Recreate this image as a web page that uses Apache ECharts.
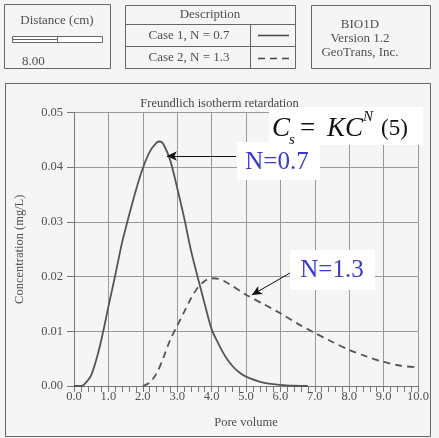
<!DOCTYPE html>
<html><head><meta charset="utf-8">
<script src="https://cdn.jsdelivr.net/npm/echarts@6/dist/echarts.min.js"></script>
<style>html,body{margin:0;padding:0;background:#f5f5f5}#c{width:439px;height:438px}</style>
</head><body><div id="c"></div>
<script>
// Case 1, N = 0.7 (solid)
const poreVolume1 = [0.0, 0.2, 0.3, 0.5, 0.7, 0.85, 1.0, 1.2, 1.4, 1.6, 1.8, 2.0, 2.2, 2.4, 2.5, 2.6, 2.8, 3.0, 3.2, 3.4, 3.6, 3.8, 4.0, 4.2, 4.4, 4.6, 4.8, 5.0, 5.5, 6.0, 6.4, 6.8];
const conc1 = [0, 0, 0.0003, 0.0020, 0.0060, 0.0100, 0.0145, 0.0203, 0.0263, 0.0312, 0.0358, 0.0398, 0.0428, 0.0445, 0.0447, 0.0442, 0.0412, 0.0362, 0.0308, 0.0248, 0.0198, 0.0150, 0.0104, 0.0077, 0.0054, 0.0037, 0.0025, 0.0017, 0.0006, 0.0002, 0.00005, 0];
// Case 2, N = 1.3 (dashed)
const poreVolume2 = [2.0, 2.2, 2.4, 2.6, 2.8, 3.0, 3.2, 3.4, 3.6, 3.8, 4.0, 4.2, 4.5, 5.0, 5.5, 6.0, 6.5, 7.0, 7.5, 8.0, 8.5, 9.0, 9.5, 10.0];
const conc2 = [0, 0.0006, 0.0023, 0.0052, 0.0085, 0.0110, 0.0135, 0.0160, 0.0180, 0.0192, 0.0197, 0.0196, 0.0187, 0.0167, 0.0150, 0.0133, 0.0114, 0.0097, 0.0081, 0.0066, 0.0054, 0.0044, 0.0037, 0.0034];
const xTickLabels = ['0.0','1.0','2.0','3.0','4.0','5.0','6.0','7.0','8.0','9.0','10.0'];
const yTickLabels = ['0.00','0.01','0.02','0.03','0.04','0.05'];
// arrow annotations (data coordinates): [from, to]
const arrow07 = [[4.71, 0.04205], [2.70, 0.04205]];
const arrow13 = [[6.28, 0.02066], [5.17, 0.01664]];

const FONT = 'Liberation Serif';
const TXT = '#505050';
const chart = echarts.init(document.getElementById('c'), null, {renderer: 'canvas'});

function zip(xs, ys) { return xs.map((x, i) => [x, ys[i]]); }

const g = [];
function rect(x, y, w, h, fill) { g.push({type: 'rect', shape: {x, y, width: w, height: h}, style: {fill: fill || 'none', stroke: '#666', lineWidth: 1}, z: 10}); }
function line(x1, y1, x2, y2, dash, w, color) { g.push({type: 'line', shape: {x1, y1, x2, y2}, style: {stroke: color || '#666', lineWidth: w || 1, lineDash: dash || null}, z: 11}); }
function text(x, y, t, opts) {
  g.push({type: 'text', x, y, z: 12, style: Object.assign({text: t, font: '13px "' + FONT + '"', fill: TXT, align: 'center', verticalAlign: 'middle'}, opts || {})});
}
// chart frame
rect(5.5, 83.5, 425, 353);
// Distance box
rect(4.5, 4.5, 106, 64);
text(57, 21, 'Distance (cm)');
rect(12.5, 36.5, 90, 6, '#fff');
line(12.5, 39.5, 57.5, 39.5);
line(57.5, 36.5, 57.5, 42.5);
text(22, 62, '8.00', {align: 'left'});
// Description box
rect(125.5, 5.5, 170, 63);
line(125.5, 24.5, 295.5, 24.5);
line(125.5, 46.5, 295.5, 46.5);
line(250.5, 24.5, 250.5, 68.5);
text(210, 15, 'Description');
text(189, 36, 'Case 1, N = 0.7');
text(189, 58, 'Case 2, N = 1.3');
line(258, 35.5, 289, 35.5, null, 1.5, '#444');
line(258, 58.5, 289, 58.5, [7, 5], 1.5, '#444');
// BIO1D box
rect(311.5, 5.5, 119, 63);
text(360, 25, 'BIO1D');
text(360, 39, 'Version 1.2');
text(360, 53, 'GeoTrans, Inc.');
// equation box
g.push({type: 'rect', shape: {x: 269, y: 107, width: 154, height: 38}, style: {fill: '#fff'}, z: 9});
const EQ = {fill: '#111', align: 'left', verticalAlign: 'middle'};
text(272, 129, 'C', Object.assign({font: 'italic 27px "' + FONT + '"'}, EQ));
text(289, 140, 's', Object.assign({font: 'italic 15px "' + FONT + '"'}, EQ));
text(300, 129, '=', Object.assign({font: '27px "' + FONT + '"'}, EQ));
text(327, 129, 'KC', Object.assign({font: 'italic 27px "' + FONT + '"'}, EQ));
text(363, 117, 'N', Object.assign({font: 'italic 15px "' + FONT + '"'}, EQ));
text(381, 129, '(5)', Object.assign({font: '23px "' + FONT + '"'}, EQ));
// N labels
g.push({type: 'rect', shape: {x: 237, y: 142, width: 83, height: 38}, style: {fill: '#fff'}, z: 9});
text(277, 162, 'N=0.7', {font: '25px "' + FONT + '"', fill: '#3a3ad0'});
g.push({type: 'rect', shape: {x: 290, y: 250, width: 85, height: 40}, style: {fill: '#fff'}, z: 9});
text(332, 270, 'N=1.3', {font: '25px "' + FONT + '"', fill: '#3a3ad0'});

const option = {
  backgroundColor: '#f5f5f5',
  animation: false,
  title: {text: 'Freundlich isotherm retardation', left: 'center', top: 92, textStyle: {fontFamily: FONT, fontSize: 12.5, fontWeight: 'normal', color: '#444'}},
  grid: {left: 74, right: 21, top: 112.5, bottom: 52, containLabel: false},
  xAxis: {
    type: 'value', min: 0, max: 10, interval: 1,
    name: 'Pore volume', nameLocation: 'middle', nameGap: 30,
    nameTextStyle: {fontFamily: FONT, fontSize: 12.5, color: TXT},
    axisLine: {show: true, onZero: false, lineStyle: {color: '#777'}},
    axisTick: {show: true, length: 6, inside: false, lineStyle: {color: '#777'}},
    minorTick: {show: true, splitNumber: 5, length: 6, lineStyle: {color: '#777'}},
    axisLabel: {fontFamily: FONT, fontSize: 12.5, color: TXT, margin: 4, formatter: (v) => xTickLabels[Math.round(v)]},
    splitLine: {show: true, lineStyle: {color: '#999', width: 1}}
  },
  yAxis: {
    type: 'value', min: 0, max: 0.05, interval: 0.01,
    name: 'Concentration (mg/L)', nameLocation: 'middle', nameGap: 48, nameRotate: 90,
    nameTextStyle: {fontFamily: FONT, fontSize: 12.5, color: TXT},
    axisLine: {show: true, lineStyle: {color: '#777'}},
    axisTick: {show: true, length: 7, lineStyle: {color: '#777'}},
    axisLabel: {fontFamily: FONT, fontSize: 12.5, color: TXT, margin: 11, formatter: (v) => yTickLabels[Math.round(v * 100)]},
    splitLine: {show: true, lineStyle: {color: '#999', width: 1}}
  },
  series: [
    {
      name: 'Case 1, N = 0.7', type: 'line', smooth: 0.3, showSymbol: false,
      data: zip(poreVolume1, conc1),
      lineStyle: {color: '#555', width: 1.8},
      markLine: {silent: true, symbol: ['none', 'arrow'], symbolSize: [7, 10], label: {show: false},
        lineStyle: {color: '#111', width: 1, type: 'solid'},
        data: [[{coord: arrow07[0]}, {coord: arrow07[1]}]]}
    },
    {
      name: 'Case 2, N = 1.3', type: 'line', smooth: 0.3, showSymbol: false,
      data: zip(poreVolume2, conc2),
      lineStyle: {color: '#555', width: 1.8, type: [7, 5]},
      markLine: {silent: true, symbol: ['none', 'arrow'], symbolSize: [7, 10], label: {show: false},
        lineStyle: {color: '#111', width: 1, type: 'solid'},
        data: [[{coord: arrow13[0]}, {coord: arrow13[1]}]]}
    }
  ],
  graphic: g
};
chart.setOption(option);
</script></body></html>
